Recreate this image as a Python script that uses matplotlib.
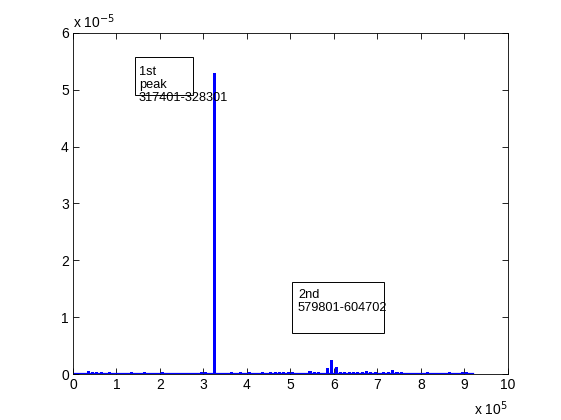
import numpy as np
import matplotlib
matplotlib.use("Agg")
import matplotlib.pyplot as plt
from matplotlib.patches import Rectangle

plt.rcParams['font.family'] = ['Liberation Sans', 'DejaVu Sans']

# signal value per 10000-sample bin, in units of 1e-5
bin_width = 10000
values_e5 = [0.01, 0.01, 0.01, 0.05, 0.03, 0.04, 0.03, 0.02, 0.03, 0.01,
             0.01, 0.01, 0.01, 0.03, 0.01, 0.01, 0.03, 0.01, 0.01, 0.01,
             0.03, 0.01, 0.01, 0.01, 0.01, 0.01, 0.01, 0.01, 0.01, 0.03,
             0.04, 0.02, 5.30, 0.01, 0.01, 0.01, 0.03, 0.02, 0.03, 0.02,
             0.04, 0.02, 0.01, 0.03, 0.02, 0.03, 0.03, 0.03, 0.03, 0.04,
             0.03, 0.01, 0.01, 0.02, 0.05, 0.03, 0.03, 0.01, 0.10, 0.25,
             0.12, 0.04, 0.04, 0.03, 0.04, 0.03, 0.04, 0.05, 0.03, 0.04,
             0.02, 0.03, 0.03, 0.07, 0.03, 0.03, 0.02, 0.01, 0.01, 0.02,
             0.01, 0.03, 0.02, 0.01, 0.01, 0.02, 0.03, 0.02, 0.02, 0.03,
             0.04, 0.02]
xtick_labels = ['0', '1', '2', '3', '4', '5', '6', '7', '8', '9', '10']
ytick_labels = ['0', '1', '2', '3', '4', '5', '6']
peak1_label = '1st\npeak\n317401-328301'
peak2_label = '2nd\n579801-604702'

vals = np.array(values_e5) * 1e-5
centers = (np.arange(len(vals)) + 0.5) * bin_width

fig = plt.figure(figsize=(5.61, 4.2), dpi=100)
ax = fig.add_axes([0.13, 0.1095, 0.7754, 0.812])

blue = '#0000ff'
ax.bar(centers, vals, width=7000, color=blue, lw=0)
ax.plot([0, centers[-1] + bin_width / 2], [0, 0], color=blue, lw=1.6)

ax.set_xlim(0, 1e6)
ax.set_ylim(0, 6e-5)
ax.set_xticks(np.arange(11) * 1e5)
ax.set_xticklabels(xtick_labels)
ax.set_yticks(np.arange(7) * 1e-5)
ax.set_yticklabels(ytick_labels)
ax.tick_params(direction='in', top=True, right=True, length=4,
               labelsize=10, width=0.6, pad=3)
for s in ax.spines.values():
    s.set_linewidth(0.6)

ax.text(0, 1.005, r'x 10$^{-5}$', transform=ax.transAxes, fontsize=10,
        ha='left', va='bottom')
ax.text(1.0, -0.075, r'x 10$^{5}$', transform=ax.transAxes, fontsize=10,
        ha='right', va='top')

# annotation boxes, figure coordinates
fig.patches.append(Rectangle((0.2406, 0.7738), 0.1034, 0.0905, fill=False,
                             ec='black', lw=0.7, transform=fig.transFigure))
fig.text(0.2478, 0.843, peak1_label, fontsize=9.2, va='top', ha='left',
         linespacing=1.1)
fig.patches.append(Rectangle((0.5205, 0.2071), 0.164, 0.1214, fill=False,
                             ec='black', lw=0.7, transform=fig.transFigure))
fig.text(0.5312, 0.311, peak2_label, fontsize=9.2, va='top', ha='left',
         linespacing=1.1)

fig.savefig('out.png', dpi=100, facecolor='white')
